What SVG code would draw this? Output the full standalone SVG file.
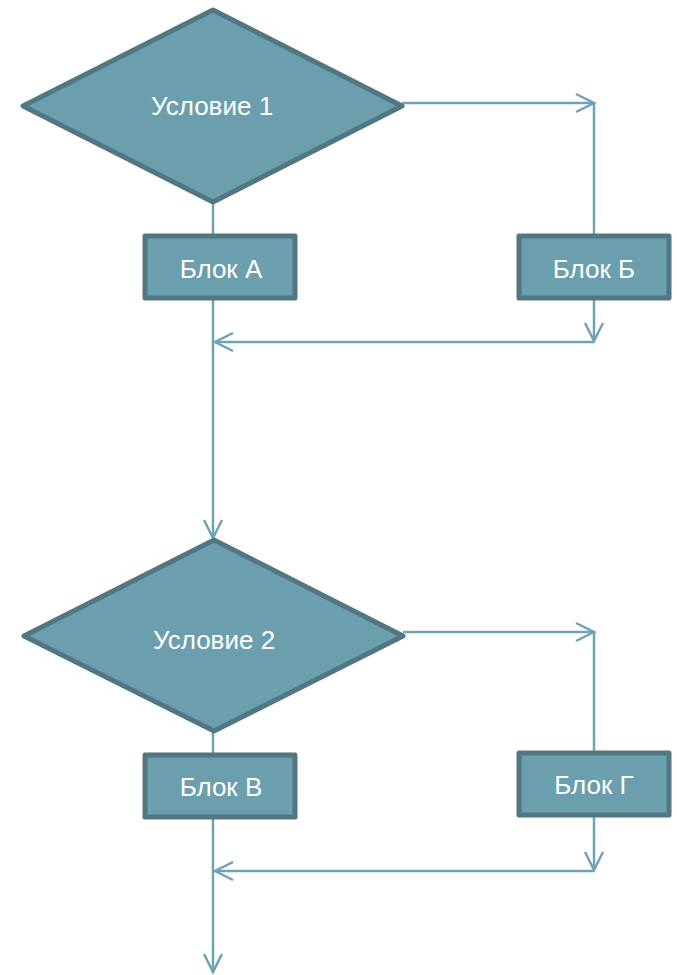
<svg xmlns="http://www.w3.org/2000/svg" width="677" height="975" viewBox="0 0 677 975">
<style>
.shape{fill:#6b9fae;stroke:#527782;stroke-width:5;stroke-linejoin:round}
.lbl{font-family:"Liberation Sans",Arial,sans-serif;font-size:26px;fill:#ffffff;text-anchor:middle}
.con{fill:none;stroke:#6fa3b3;stroke-width:2.5}
</style>
<defs>
<marker id="arr" markerUnits="userSpaceOnUse" markerWidth="24" markerHeight="24" viewBox="-20 -12 24 24" refX="0" refY="0" orient="auto">
<path d="M-18,-9 L0,0 L-18,9" fill="none" stroke="#6fa3b3" stroke-width="2.5"/>
</marker>
</defs>
<rect width="677" height="975" fill="#ffffff"/>
<g id="connectors">
<line class="con" x1="213" y1="202" x2="213" y2="236"/>
<polyline class="con" points="402,103 594,103" marker-end="url(#arr)"/>
<line class="con" x1="594" y1="103" x2="594" y2="236"/>
<polyline class="con" points="594,298 594,341" marker-end="url(#arr)"/>
<polyline class="con" points="594,342 215,342" marker-end="url(#arr)"/>
<polyline class="con" points="213,298 213,538" marker-end="url(#arr)"/>
<line class="con" x1="213" y1="731" x2="213" y2="755"/>
<polyline class="con" points="403,632 594,632" marker-end="url(#arr)"/>
<line class="con" x1="594" y1="632" x2="594" y2="753"/>
<polyline class="con" points="594,815 594,870" marker-end="url(#arr)"/>
<polyline class="con" points="594,871 215,871" marker-end="url(#arr)"/>
<polyline class="con" points="213,817 213,972" marker-end="url(#arr)"/>
</g>
<g id="cond1">
<polygon class="shape" points="213,10 402,106 213,202 23,106"/>
<text class="lbl" x="212" y="115">Условие 1</text>
</g>
<g id="blockA">
<rect class="shape" x="145" y="236" width="150" height="62"/>
<text class="lbl" x="221" y="278">Блок А</text>
</g>
<g id="blockB">
<rect class="shape" x="519" y="236" width="150" height="62"/>
<text class="lbl" x="594" y="278">Блок Б</text>
</g>
<g id="cond2">
<polygon class="shape" points="214,540 403,636 214,731 24,636"/>
<text class="lbl" x="214" y="649">Условие 2</text>
</g>
<g id="blockV">
<rect class="shape" x="145" y="755" width="150" height="62"/>
<text class="lbl" x="221" y="796">Блок В</text>
</g>
<g id="blockG">
<rect class="shape" x="519" y="753" width="150" height="62"/>
<text class="lbl" x="594" y="794">Блок Г</text>
</g>
</svg>
